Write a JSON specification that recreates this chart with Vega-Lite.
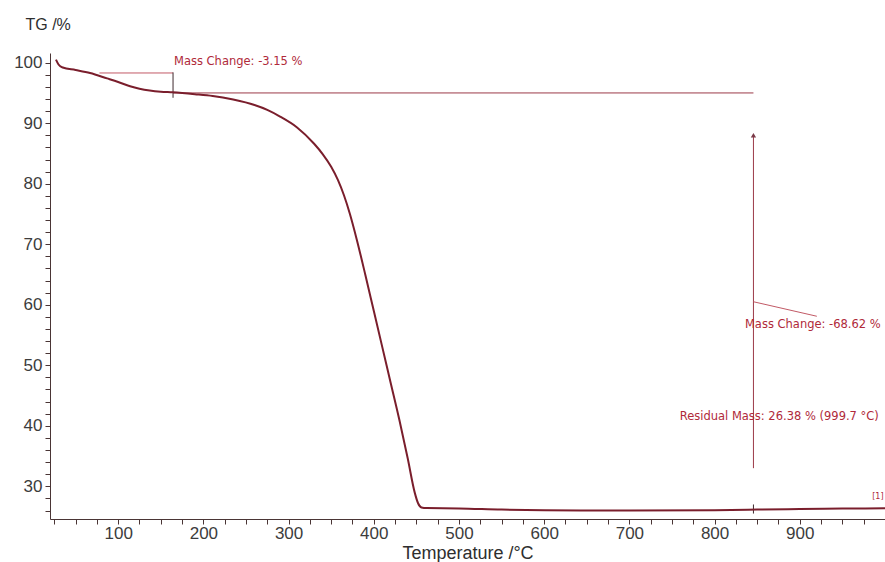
{
  "$schema": "https://vega.github.io/schema/vega-lite/v6.json",
  "width": 835,
  "height": 466,
  "autosize": {"type": "none"},
  "padding": {"left": 50, "top": 53, "right": 0, "bottom": 43},
  "background": "white",
  "config": {
    "view": {"stroke": null},
    "font": "Liberation Sans",
    "axis": {"grid": false, "domainColor": "#4a3535", "tickColor": "#4a3535", "labelColor": "#3c3c3c", "labelFont": "Liberation Sans", "titleFont": "Liberation Sans", "titleColor": "#2e2e2e", "titleFontWeight": "normal"}
  },
  "datasets": {
    "curve": [
      {"T": 27, "TG": 100.5}, {"T": 30, "TG": 99.7}, {"T": 35, "TG": 99.2}, {"T": 50, "TG": 98.8},
      {"T": 67, "TG": 98.3}, {"T": 87, "TG": 97.4}, {"T": 100, "TG": 96.8}, {"T": 114, "TG": 96.1},
      {"T": 125, "TG": 95.7}, {"T": 137, "TG": 95.4}, {"T": 150, "TG": 95.2}, {"T": 164, "TG": 95.1},
      {"T": 190, "TG": 94.8}, {"T": 211, "TG": 94.5}, {"T": 235, "TG": 93.9}, {"T": 260, "TG": 93.0},
      {"T": 275, "TG": 92.2}, {"T": 290, "TG": 91.1}, {"T": 310, "TG": 89.3}, {"T": 330, "TG": 86.6},
      {"T": 340, "TG": 84.9}, {"T": 350, "TG": 82.8}, {"T": 358, "TG": 80.6}, {"T": 365, "TG": 78.1},
      {"T": 372, "TG": 75.0}, {"T": 380, "TG": 70.8}, {"T": 390, "TG": 65.0}, {"T": 400, "TG": 59.0},
      {"T": 410, "TG": 53.0}, {"T": 420, "TG": 47.0}, {"T": 430, "TG": 41.0}, {"T": 440, "TG": 34.5},
      {"T": 448, "TG": 29.0}, {"T": 452, "TG": 27.2}, {"T": 456, "TG": 26.5}, {"T": 462, "TG": 26.4},
      {"T": 500, "TG": 26.35}, {"T": 550, "TG": 26.15}, {"T": 600, "TG": 26.05}, {"T": 700, "TG": 26.0},
      {"T": 800, "TG": 26.05}, {"T": 850, "TG": 26.15}, {"T": 900, "TG": 26.25}, {"T": 950, "TG": 26.32},
      {"T": 1000, "TG": 26.38}
    ],
    "lines": [
      {"name": "upper", "x1": 78, "x2": 164.4, "y1": 98.3, "y2": 98.3, "kind": "light"},
      {"name": "long", "x1": 164.4, "x2": 845.6, "y1": 95.0, "y2": 95.0, "kind": "mid"},
      {"name": "arrow", "x1": 845.6, "x2": 845.6, "y1": 33.0, "y2": 88.0, "kind": "mid"},
      {"name": "leader", "x1": 845.6, "x2": 920, "y1": 60.5, "y2": 58.1, "kind": "light"},
      {"name": "vmark1", "x1": 164.4, "x2": 164.4, "y1": 94.2, "y2": 98.4, "kind": "dark"},
      {"name": "vmark2", "x1": 845.6, "x2": 845.6, "y1": 25.5, "y2": 27.0, "kind": "dark"}
    ],
    "heads": [
      {"T": 845.6, "TG": 88.0}
    ],
    "labels": [
      {"T": 165.5, "TG": 100.1, "text": "Mass Change: -3.15 %", "size": 11.5},
      {"T": 835.6, "TG": 56.6, "text": "Mass Change: -68.62 %", "size": 11.5},
      {"T": 759, "TG": 41.5, "text": "Residual Mass: 26.38 % (999.7 °C)", "size": 11.5},
      {"T": 985, "TG": 28.3, "text": "[1]", "size": 8}
    ]
  },
  "layer": [
    {
      "data": {"name": "lines"},
      "mark": {"type": "rule", "strokeWidth": 1},
      "encoding": {
        "x": {"field": "x1", "type": "quantitative"},
        "x2": {"field": "x2"},
        "y": {"field": "y1", "type": "quantitative"},
        "y2": {"field": "y2"},
        "color": {"field": "kind", "type": "nominal", "scale": {"domain": ["light", "mid", "dark"], "range": ["#c25a66", "#9c3a48", "#3e2a2e"]}, "legend": null}
      }
    },
    {
      "data": {"name": "heads"},
      "mark": {"type": "point", "shape": "triangle-up", "filled": true, "size": 28, "color": "#7a3a48", "opacity": 1},
      "encoding": {
        "x": {"field": "T", "type": "quantitative"},
        "y": {"field": "TG", "type": "quantitative"}
      }
    },
    {
      "data": {"name": "curve"},
      "mark": {"type": "line", "color": "#7a1e2c", "strokeWidth": 2, "interpolate": "monotone"},
      "encoding": {
        "x": {
          "field": "T", "type": "quantitative",
          "scale": {"domain": [20, 1000], "nice": false, "zero": false},
          "axis": {
            "title": "Temperature /°C", "titleFontSize": 18, "titlePadding": 3,
            "values": [25,50,75,100,125,150,175,200,225,250,275,300,325,350,375,400,425,450,475,500,525,550,575,600,625,650,675,700,725,750,775,800,825,850,875,900,925,950,975],
            "tickCount": 200, "format": "d",
            "labelExpr": "datum.value % 100 === 0 ? datum.label : ''",
            "labelFontSize": 17, "tickSize": 5, "labelPadding": 1, "labelOverlap": false, "labelFlush": false
          }
        },
        "y": {
          "field": "TG", "type": "quantitative",
          "scale": {"domain": [24.6, 101.6], "nice": false, "zero": false},
          "axis": {
            "title": "TG /%", "titleAngle": 0, "titleFontSize": 16, "titleAlign": "left", "titleBaseline": "middle",
            "titleX": -25, "titleY": -29,
            "values": [26,28,30,32,34,36,38,40,42,44,46,48,50,52,54,56,58,60,62,64,66,68,70,72,74,76,78,80,82,84,86,88,90,92,94,96,98,100],
            "tickCount": 200, "format": "d",
            "labelExpr": "datum.value % 10 === 0 ? datum.label : ''",
            "labelFontSize": 17, "tickSize": 5, "labelPadding": 3, "labelOverlap": false
          }
        }
      }
    },
    {
      "data": {"name": "labels"},
      "mark": {"type": "text", "align": "left", "baseline": "middle", "color": "#b02a3a", "font": "DejaVu Sans"},
      "encoding": {
        "x": {"field": "T", "type": "quantitative"},
        "y": {"field": "TG", "type": "quantitative"},
        "text": {"field": "text"},
        "size": {"field": "size", "type": "quantitative", "scale": null}
      }
    }
  ]
}
